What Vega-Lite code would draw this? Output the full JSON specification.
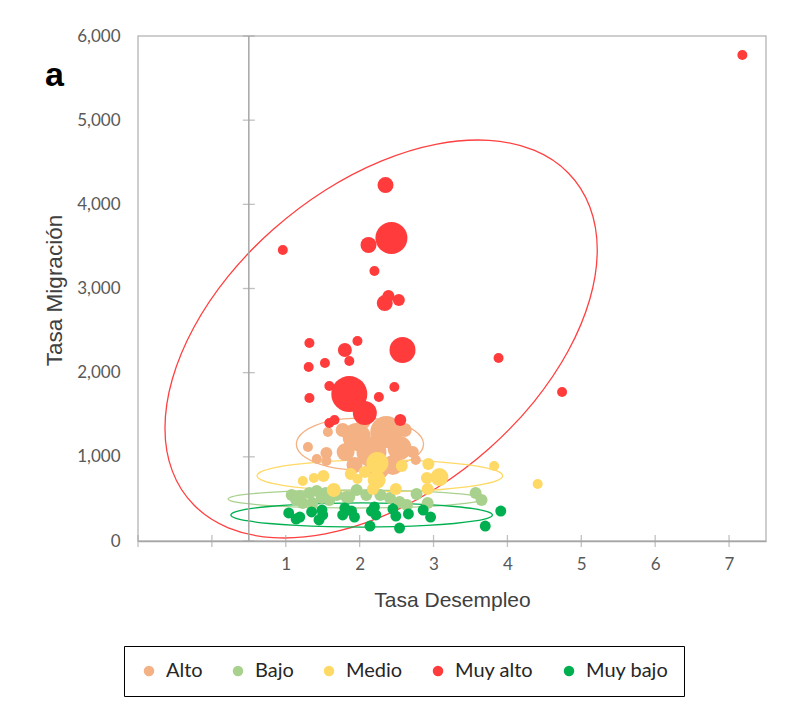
{
  "$schema": "https://vega.github.io/schema/vega-lite/v6.json",
  "width": 628,
  "height": 505,
  "autosize": {"type": "none"},
  "padding": {"left": 138, "top": 36, "right": 29, "bottom": 167},
  "background": "white",
  "config": {
    "view": {"stroke": "#BFBFBF", "strokeWidth": 1.5},
    "font": "Lato"
  },
  "title": {
    "text": "a", "anchor": "start", "frame": "group", "orient": "top",
    "fontSize": 34, "fontWeight": "bold", "font": "Liberation Sans", "color": "black",
    "baseline": "alphabetic", "offset": 0, "dx": -93, "dy": 93
  },
  "datasets": {
    "puntos": [
      {"nivel": "Alto", "desempleo": 1.30, "migracion": 1117, "pob": 25},
      {"nivel": "Alto", "desempleo": 1.57, "migracion": 1295, "pob": 25},
      {"nivel": "Alto", "desempleo": 1.55, "migracion": 1045, "pob": 36},
      {"nivel": "Alto", "desempleo": 1.42, "migracion": 974, "pob": 25},
      {"nivel": "Alto", "desempleo": 1.55, "migracion": 950, "pob": 25},
      {"nivel": "Alto", "desempleo": 1.77, "migracion": 1319, "pob": 49},
      {"nivel": "Alto", "desempleo": 1.96, "migracion": 1236, "pob": 196},
      {"nivel": "Alto", "desempleo": 2.36, "migracion": 1295, "pob": 256},
      {"nivel": "Alto", "desempleo": 2.16, "migracion": 1057, "pob": 225},
      {"nivel": "Alto", "desempleo": 2.54, "migracion": 1105, "pob": 144},
      {"nivel": "Alto", "desempleo": 2.45, "migracion": 903, "pob": 100},
      {"nivel": "Alto", "desempleo": 2.24, "migracion": 867, "pob": 144},
      {"nivel": "Alto", "desempleo": 2.72, "migracion": 1057, "pob": 36},
      {"nivel": "Alto", "desempleo": 1.81, "migracion": 1057, "pob": 81},
      {"nivel": "Alto", "desempleo": 2.05, "migracion": 1414, "pob": 49},
      {"nivel": "Alto", "desempleo": 2.61, "migracion": 1319, "pob": 49},
      {"nivel": "Alto", "desempleo": 2.76, "migracion": 962, "pob": 25},
      {"nivel": "Alto", "desempleo": 1.93, "migracion": 903, "pob": 64},
      {"nivel": "Bajo", "desempleo": 1.08, "migracion": 547, "pob": 36},
      {"nivel": "Bajo", "desempleo": 1.19, "migracion": 535, "pob": 36},
      {"nivel": "Bajo", "desempleo": 1.32, "migracion": 570, "pob": 36},
      {"nivel": "Bajo", "desempleo": 1.42, "migracion": 594, "pob": 36},
      {"nivel": "Bajo", "desempleo": 1.23, "migracion": 451, "pob": 36},
      {"nivel": "Bajo", "desempleo": 1.36, "migracion": 451, "pob": 36},
      {"nivel": "Bajo", "desempleo": 1.49, "migracion": 511, "pob": 36},
      {"nivel": "Bajo", "desempleo": 1.59, "migracion": 487, "pob": 36},
      {"nivel": "Bajo", "desempleo": 1.82, "migracion": 523, "pob": 36},
      {"nivel": "Bajo", "desempleo": 1.96, "migracion": 606, "pob": 36},
      {"nivel": "Bajo", "desempleo": 1.86, "migracion": 523, "pob": 36},
      {"nivel": "Bajo", "desempleo": 2.09, "migracion": 547, "pob": 36},
      {"nivel": "Bajo", "desempleo": 2.28, "migracion": 547, "pob": 36},
      {"nivel": "Bajo", "desempleo": 2.41, "migracion": 511, "pob": 36},
      {"nivel": "Bajo", "desempleo": 2.54, "migracion": 463, "pob": 36},
      {"nivel": "Bajo", "desempleo": 2.64, "migracion": 428, "pob": 36},
      {"nivel": "Bajo", "desempleo": 2.77, "migracion": 558, "pob": 36},
      {"nivel": "Bajo", "desempleo": 2.92, "migracion": 451, "pob": 36},
      {"nivel": "Bajo", "desempleo": 3.57, "migracion": 570, "pob": 36},
      {"nivel": "Bajo", "desempleo": 3.65, "migracion": 487, "pob": 36},
      {"nivel": "Bajo", "desempleo": 1.69, "migracion": 547, "pob": 36},
      {"nivel": "Bajo", "desempleo": 1.14, "migracion": 487, "pob": 36},
      {"nivel": "Bajo", "desempleo": 1.54, "migracion": 570, "pob": 36},
      {"nivel": "Medio", "desempleo": 1.23, "migracion": 713, "pob": 25},
      {"nivel": "Medio", "desempleo": 1.38, "migracion": 748, "pob": 25},
      {"nivel": "Medio", "desempleo": 1.51, "migracion": 772, "pob": 36},
      {"nivel": "Medio", "desempleo": 1.65, "migracion": 606, "pob": 49},
      {"nivel": "Medio", "desempleo": 1.88, "migracion": 796, "pob": 36},
      {"nivel": "Medio", "desempleo": 1.97, "migracion": 737, "pob": 25},
      {"nivel": "Medio", "desempleo": 2.24, "migracion": 927, "pob": 121},
      {"nivel": "Medio", "desempleo": 2.23, "migracion": 725, "pob": 81},
      {"nivel": "Medio", "desempleo": 2.18, "migracion": 618, "pob": 36},
      {"nivel": "Medio", "desempleo": 2.57, "migracion": 891, "pob": 36},
      {"nivel": "Medio", "desempleo": 2.49, "migracion": 618, "pob": 36},
      {"nivel": "Medio", "desempleo": 2.93, "migracion": 915, "pob": 36},
      {"nivel": "Medio", "desempleo": 3.08, "migracion": 760, "pob": 81},
      {"nivel": "Medio", "desempleo": 2.91, "migracion": 748, "pob": 36},
      {"nivel": "Medio", "desempleo": 2.92, "migracion": 618, "pob": 36},
      {"nivel": "Medio", "desempleo": 3.82, "migracion": 891, "pob": 25},
      {"nivel": "Medio", "desempleo": 4.41, "migracion": 677, "pob": 25},
      {"nivel": "Medio", "desempleo": 2.07, "migracion": 820, "pob": 36},
      {"nivel": "Muy alto", "desempleo": 7.18, "migracion": 5774, "pob": 25},
      {"nivel": "Muy alto", "desempleo": 2.35, "migracion": 4229, "pob": 64},
      {"nivel": "Muy alto", "desempleo": 2.43, "migracion": 3600, "pob": 256},
      {"nivel": "Muy alto", "desempleo": 2.12, "migracion": 3517, "pob": 64},
      {"nivel": "Muy alto", "desempleo": 0.96, "migracion": 3457, "pob": 25},
      {"nivel": "Muy alto", "desempleo": 2.20, "migracion": 3208, "pob": 25},
      {"nivel": "Muy alto", "desempleo": 2.39, "migracion": 2911, "pob": 36},
      {"nivel": "Muy alto", "desempleo": 2.34, "migracion": 2827, "pob": 64},
      {"nivel": "Muy alto", "desempleo": 2.53, "migracion": 2863, "pob": 36},
      {"nivel": "Muy alto", "desempleo": 1.32, "migracion": 2352, "pob": 25},
      {"nivel": "Muy alto", "desempleo": 1.97, "migracion": 2376, "pob": 25},
      {"nivel": "Muy alto", "desempleo": 1.80, "migracion": 2269, "pob": 49},
      {"nivel": "Muy alto", "desempleo": 2.58, "migracion": 2269, "pob": 169},
      {"nivel": "Muy alto", "desempleo": 1.53, "migracion": 2115, "pob": 25},
      {"nivel": "Muy alto", "desempleo": 1.86, "migracion": 2138, "pob": 25},
      {"nivel": "Muy alto", "desempleo": 1.31, "migracion": 2067, "pob": 25},
      {"nivel": "Muy alto", "desempleo": 3.88, "migracion": 2174, "pob": 25},
      {"nivel": "Muy alto", "desempleo": 1.86, "migracion": 1746, "pob": 324},
      {"nivel": "Muy alto", "desempleo": 1.59, "migracion": 1841, "pob": 25},
      {"nivel": "Muy alto", "desempleo": 2.47, "migracion": 1829, "pob": 25},
      {"nivel": "Muy alto", "desempleo": 1.32, "migracion": 1699, "pob": 25},
      {"nivel": "Muy alto", "desempleo": 2.26, "migracion": 1711, "pob": 25},
      {"nivel": "Muy alto", "desempleo": 2.07, "migracion": 1521, "pob": 144},
      {"nivel": "Muy alto", "desempleo": 2.55, "migracion": 1437, "pob": 36},
      {"nivel": "Muy alto", "desempleo": 1.59, "migracion": 1402, "pob": 25},
      {"nivel": "Muy alto", "desempleo": 1.66, "migracion": 1437, "pob": 25},
      {"nivel": "Muy alto", "desempleo": 4.74, "migracion": 1770, "pob": 25},
      {"nivel": "Muy bajo", "desempleo": 1.04, "migracion": 333, "pob": 30},
      {"nivel": "Muy bajo", "desempleo": 1.14, "migracion": 261, "pob": 30},
      {"nivel": "Muy bajo", "desempleo": 1.35, "migracion": 345, "pob": 30},
      {"nivel": "Muy bajo", "desempleo": 1.49, "migracion": 368, "pob": 30},
      {"nivel": "Muy bajo", "desempleo": 1.45, "migracion": 250, "pob": 30},
      {"nivel": "Muy bajo", "desempleo": 1.50, "migracion": 309, "pob": 30},
      {"nivel": "Muy bajo", "desempleo": 1.80, "migracion": 392, "pob": 30},
      {"nivel": "Muy bajo", "desempleo": 1.89, "migracion": 356, "pob": 30},
      {"nivel": "Muy bajo", "desempleo": 1.93, "migracion": 285, "pob": 30},
      {"nivel": "Muy bajo", "desempleo": 2.16, "migracion": 356, "pob": 30},
      {"nivel": "Muy bajo", "desempleo": 2.20, "migracion": 404, "pob": 30},
      {"nivel": "Muy bajo", "desempleo": 2.22, "migracion": 309, "pob": 30},
      {"nivel": "Muy bajo", "desempleo": 2.45, "migracion": 380, "pob": 30},
      {"nivel": "Muy bajo", "desempleo": 2.49, "migracion": 297, "pob": 30},
      {"nivel": "Muy bajo", "desempleo": 2.66, "migracion": 321, "pob": 30},
      {"nivel": "Muy bajo", "desempleo": 2.86, "migracion": 368, "pob": 30},
      {"nivel": "Muy bajo", "desempleo": 2.96, "migracion": 285, "pob": 30},
      {"nivel": "Muy bajo", "desempleo": 2.14, "migracion": 178, "pob": 30},
      {"nivel": "Muy bajo", "desempleo": 2.54, "migracion": 154, "pob": 30},
      {"nivel": "Muy bajo", "desempleo": 3.70, "migracion": 178, "pob": 30},
      {"nivel": "Muy bajo", "desempleo": 3.91, "migracion": 356, "pob": 30},
      {"nivel": "Muy bajo", "desempleo": 1.19, "migracion": 285, "pob": 30},
      {"nivel": "Muy bajo", "desempleo": 1.77, "migracion": 309, "pob": 30}
    ],
    "elipses": [
      {"nivel": "Muy alto", "i": 0, "desempleo": 5.216, "migracion": 3459},
      {"nivel": "Muy alto", "i": 1, "desempleo": 5.116, "migracion": 3969},
      {"nivel": "Muy alto", "i": 2, "desempleo": 4.824, "migracion": 4373},
      {"nivel": "Muy alto", "i": 3, "desempleo": 4.359, "migracion": 4643},
      {"nivel": "Muy alto", "i": 4, "desempleo": 3.753, "migracion": 4760},
      {"nivel": "Muy alto", "i": 5, "desempleo": 3.047, "migracion": 4716},
      {"nivel": "Muy alto", "i": 6, "desempleo": 2.291, "migracion": 4514},
      {"nivel": "Muy alto", "i": 7, "desempleo": 1.534, "migracion": 4168},
      {"nivel": "Muy alto", "i": 8, "desempleo": 0.828, "migracion": 3701},
      {"nivel": "Muy alto", "i": 9, "desempleo": 0.222, "migracion": 3146},
      {"nivel": "Muy alto", "i": 10, "desempleo": -0.243, "migracion": 2540},
      {"nivel": "Muy alto", "i": 11, "desempleo": -0.535, "migracion": 1925},
      {"nivel": "Muy alto", "i": 12, "desempleo": -0.635, "migracion": 1341},
      {"nivel": "Muy alto", "i": 13, "desempleo": -0.535, "migracion": 830},
      {"nivel": "Muy alto", "i": 14, "desempleo": -0.243, "migracion": 427},
      {"nivel": "Muy alto", "i": 15, "desempleo": 0.222, "migracion": 157},
      {"nivel": "Muy alto", "i": 16, "desempleo": 0.828, "migracion": 40},
      {"nivel": "Muy alto", "i": 17, "desempleo": 1.534, "migracion": 84},
      {"nivel": "Muy alto", "i": 18, "desempleo": 2.291, "migracion": 286},
      {"nivel": "Muy alto", "i": 19, "desempleo": 3.047, "migracion": 632},
      {"nivel": "Muy alto", "i": 20, "desempleo": 3.753, "migracion": 1099},
      {"nivel": "Muy alto", "i": 21, "desempleo": 4.359, "migracion": 1654},
      {"nivel": "Muy alto", "i": 22, "desempleo": 4.824, "migracion": 2260},
      {"nivel": "Muy alto", "i": 23, "desempleo": 5.116, "migracion": 2875},
      {"nivel": "Alto", "i": 0, "desempleo": 2.865, "migracion": 1152},
      {"nivel": "Alto", "i": 1, "desempleo": 2.836, "migracion": 1232},
      {"nivel": "Alto", "i": 2, "desempleo": 2.750, "migracion": 1307},
      {"nivel": "Alto", "i": 3, "desempleo": 2.613, "migracion": 1371},
      {"nivel": "Alto", "i": 4, "desempleo": 2.435, "migracion": 1420},
      {"nivel": "Alto", "i": 5, "desempleo": 2.227, "migracion": 1450},
      {"nivel": "Alto", "i": 6, "desempleo": 2.004, "migracion": 1461},
      {"nivel": "Alto", "i": 7, "desempleo": 1.781, "migracion": 1450},
      {"nivel": "Alto", "i": 8, "desempleo": 1.574, "migracion": 1420},
      {"nivel": "Alto", "i": 9, "desempleo": 1.395, "migracion": 1371},
      {"nivel": "Alto", "i": 10, "desempleo": 1.258, "migracion": 1307},
      {"nivel": "Alto", "i": 11, "desempleo": 1.172, "migracion": 1232},
      {"nivel": "Alto", "i": 12, "desempleo": 1.143, "migracion": 1152},
      {"nivel": "Alto", "i": 13, "desempleo": 1.172, "migracion": 1072},
      {"nivel": "Alto", "i": 14, "desempleo": 1.258, "migracion": 998},
      {"nivel": "Alto", "i": 15, "desempleo": 1.395, "migracion": 934},
      {"nivel": "Alto", "i": 16, "desempleo": 1.574, "migracion": 884},
      {"nivel": "Alto", "i": 17, "desempleo": 1.781, "migracion": 854},
      {"nivel": "Alto", "i": 18, "desempleo": 2.004, "migracion": 843},
      {"nivel": "Alto", "i": 19, "desempleo": 2.227, "migracion": 854},
      {"nivel": "Alto", "i": 20, "desempleo": 2.435, "migracion": 884},
      {"nivel": "Alto", "i": 21, "desempleo": 2.613, "migracion": 934},
      {"nivel": "Alto", "i": 22, "desempleo": 2.750, "migracion": 998},
      {"nivel": "Alto", "i": 23, "desempleo": 2.836, "migracion": 1072},
      {"nivel": "Medio", "i": 0, "desempleo": 3.936, "migracion": 775},
      {"nivel": "Medio", "i": 1, "desempleo": 3.879, "migracion": 824},
      {"nivel": "Medio", "i": 2, "desempleo": 3.713, "migracion": 869},
      {"nivel": "Medio", "i": 3, "desempleo": 3.449, "migracion": 908},
      {"nivel": "Medio", "i": 4, "desempleo": 3.105, "migracion": 938},
      {"nivel": "Medio", "i": 5, "desempleo": 2.704, "migracion": 957},
      {"nivel": "Medio", "i": 6, "desempleo": 2.274, "migracion": 963},
      {"nivel": "Medio", "i": 7, "desempleo": 1.844, "migracion": 957},
      {"nivel": "Medio", "i": 8, "desempleo": 1.443, "migracion": 938},
      {"nivel": "Medio", "i": 9, "desempleo": 1.099, "migracion": 908},
      {"nivel": "Medio", "i": 10, "desempleo": 0.835, "migracion": 869},
      {"nivel": "Medio", "i": 11, "desempleo": 0.669, "migracion": 824},
      {"nivel": "Medio", "i": 12, "desempleo": 0.612, "migracion": 775},
      {"nivel": "Medio", "i": 13, "desempleo": 0.669, "migracion": 726},
      {"nivel": "Medio", "i": 14, "desempleo": 0.835, "migracion": 681},
      {"nivel": "Medio", "i": 15, "desempleo": 1.099, "migracion": 642},
      {"nivel": "Medio", "i": 16, "desempleo": 1.443, "migracion": 612},
      {"nivel": "Medio", "i": 17, "desempleo": 1.844, "migracion": 593},
      {"nivel": "Medio", "i": 18, "desempleo": 2.274, "migracion": 587},
      {"nivel": "Medio", "i": 19, "desempleo": 2.704, "migracion": 593},
      {"nivel": "Medio", "i": 20, "desempleo": 3.105, "migracion": 612},
      {"nivel": "Medio", "i": 21, "desempleo": 3.449, "migracion": 642},
      {"nivel": "Medio", "i": 22, "desempleo": 3.713, "migracion": 681},
      {"nivel": "Medio", "i": 23, "desempleo": 3.879, "migracion": 726},
      {"nivel": "Bajo", "i": 0, "desempleo": 3.659, "migracion": 499},
      {"nivel": "Bajo", "i": 1, "desempleo": 3.600, "migracion": 527},
      {"nivel": "Bajo", "i": 2, "desempleo": 3.429, "migracion": 553},
      {"nivel": "Bajo", "i": 3, "desempleo": 3.155, "migracion": 575},
      {"nivel": "Bajo", "i": 4, "desempleo": 2.799, "migracion": 592},
      {"nivel": "Bajo", "i": 5, "desempleo": 2.384, "migracion": 602},
      {"nivel": "Bajo", "i": 6, "desempleo": 1.939, "migracion": 606},
      {"nivel": "Bajo", "i": 7, "desempleo": 1.494, "migracion": 602},
      {"nivel": "Bajo", "i": 8, "desempleo": 1.079, "migracion": 592},
      {"nivel": "Bajo", "i": 9, "desempleo": 0.723, "migracion": 575},
      {"nivel": "Bajo", "i": 10, "desempleo": 0.450, "migracion": 553},
      {"nivel": "Bajo", "i": 11, "desempleo": 0.278, "migracion": 527},
      {"nivel": "Bajo", "i": 12, "desempleo": 0.219, "migracion": 499},
      {"nivel": "Bajo", "i": 13, "desempleo": 0.278, "migracion": 471},
      {"nivel": "Bajo", "i": 14, "desempleo": 0.450, "migracion": 446},
      {"nivel": "Bajo", "i": 15, "desempleo": 0.723, "migracion": 423},
      {"nivel": "Bajo", "i": 16, "desempleo": 1.079, "migracion": 406},
      {"nivel": "Bajo", "i": 17, "desempleo": 1.494, "migracion": 396},
      {"nivel": "Bajo", "i": 18, "desempleo": 1.939, "migracion": 392},
      {"nivel": "Bajo", "i": 19, "desempleo": 2.384, "migracion": 396},
      {"nivel": "Bajo", "i": 20, "desempleo": 2.799, "migracion": 406},
      {"nivel": "Bajo", "i": 21, "desempleo": 3.155, "migracion": 423},
      {"nivel": "Bajo", "i": 22, "desempleo": 3.429, "migracion": 446},
      {"nivel": "Bajo", "i": 23, "desempleo": 3.600, "migracion": 471},
      {"nivel": "Muy bajo", "i": 0, "desempleo": 3.797, "migracion": 309},
      {"nivel": "Muy bajo", "i": 1, "desempleo": 3.737, "migracion": 346},
      {"nivel": "Muy bajo", "i": 2, "desempleo": 3.560, "migracion": 381},
      {"nivel": "Muy bajo", "i": 3, "desempleo": 3.279, "migracion": 410},
      {"nivel": "Muy bajo", "i": 4, "desempleo": 2.912, "migracion": 433},
      {"nivel": "Muy bajo", "i": 5, "desempleo": 2.485, "migracion": 447},
      {"nivel": "Muy bajo", "i": 6, "desempleo": 2.027, "migracion": 452},
      {"nivel": "Muy bajo", "i": 7, "desempleo": 1.569, "migracion": 447},
      {"nivel": "Muy bajo", "i": 8, "desempleo": 1.142, "migracion": 433},
      {"nivel": "Muy bajo", "i": 9, "desempleo": 0.775, "migracion": 410},
      {"nivel": "Muy bajo", "i": 10, "desempleo": 0.495, "migracion": 381},
      {"nivel": "Muy bajo", "i": 11, "desempleo": 0.317, "migracion": 346},
      {"nivel": "Muy bajo", "i": 12, "desempleo": 0.257, "migracion": 309},
      {"nivel": "Muy bajo", "i": 13, "desempleo": 0.317, "migracion": 272},
      {"nivel": "Muy bajo", "i": 14, "desempleo": 0.495, "migracion": 238},
      {"nivel": "Muy bajo", "i": 15, "desempleo": 0.775, "migracion": 208},
      {"nivel": "Muy bajo", "i": 16, "desempleo": 1.142, "migracion": 185},
      {"nivel": "Muy bajo", "i": 17, "desempleo": 1.569, "migracion": 171},
      {"nivel": "Muy bajo", "i": 18, "desempleo": 2.027, "migracion": 166},
      {"nivel": "Muy bajo", "i": 19, "desempleo": 2.485, "migracion": 171},
      {"nivel": "Muy bajo", "i": 20, "desempleo": 2.912, "migracion": 185},
      {"nivel": "Muy bajo", "i": 21, "desempleo": 3.279, "migracion": 208},
      {"nivel": "Muy bajo", "i": 22, "desempleo": 3.560, "migracion": 238},
      {"nivel": "Muy bajo", "i": 23, "desempleo": 3.737, "migracion": 272}
    ],
    "marcasY": [
      {"migracion": 0}, {"migracion": 1000}, {"migracion": 2000}, {"migracion": 3000},
      {"migracion": 4000}, {"migracion": 5000}, {"migracion": 6000}
    ],
    "marcasX": [
      {"desempleo": -1}, {"desempleo": 0}, {"desempleo": 1}, {"desempleo": 2}, {"desempleo": 3},
      {"desempleo": 4}, {"desempleo": 5}, {"desempleo": 6}, {"desempleo": 7}
    ]
  },
  "layer": [
    {
      "data": {"name": "elipses"},
      "mark": {"type": "line", "interpolate": "cardinal-closed", "strokeWidth": 1.3},
      "encoding": {
        "x": {"field": "desempleo", "type": "quantitative"},
        "y": {"field": "migracion", "type": "quantitative"},
        "stroke": {
          "field": "nivel", "type": "nominal", "legend": null,
          "scale": {"range": ["#F4B183", "#A9D18E", "#FFD966", "#FF4040", "#00B050"]}
        },
        "order": {"field": "i", "type": "quantitative"}
      }
    },
    {
      "data": {"name": "marcasY"},
      "mark": {"type": "rule", "color": "#A6A6A6", "strokeWidth": 1.5},
      "encoding": {
        "x": {"datum": 0.5, "type": "quantitative"},
        "y": {"aggregate": "min", "field": "migracion", "type": "quantitative"},
        "y2": {"aggregate": "max", "field": "migracion"}
      }
    },
    {
      "data": {"name": "marcasY"},
      "mark": {"type": "tick", "orient": "horizontal", "size": 12, "thickness": 1.3, "color": "#A6A6A6"},
      "encoding": {
        "x": {"datum": 0.5, "type": "quantitative"},
        "y": {"field": "migracion", "type": "quantitative"}
      }
    },
    {
      "data": {"name": "marcasX"},
      "mark": {"type": "tick", "orient": "vertical", "size": 12, "thickness": 1.3, "color": "#A6A6A6"},
      "encoding": {
        "x": {"field": "desempleo", "type": "quantitative"},
        "y": {"datum": 0, "type": "quantitative"}
      }
    },
    {
      "data": {"name": "puntos"},
      "mark": {"type": "circle", "opacity": 1, "strokeWidth": 0},
      "encoding": {
        "x": {
          "field": "desempleo", "type": "quantitative",
          "scale": {"domain": [-1, 7.5], "nice": false, "zero": false},
          "axis": {
            "values": [1, 2, 3, 4, 5, 6, 7], "format": "d", "grid": false, "ticks": false, "tickSize": 0,
            "domain": true, "domainColor": "#A6A6A6", "domainWidth": 1.5,
            "labelFontSize": 17, "labelColor": "#595959", "labelPadding": 15, "labelFont": "Lato",
            "title": "Tasa Desempleo", "titleFont": "Liberation Sans", "titleFontSize": 21,
            "titleFontWeight": "normal", "titleColor": "#404040", "titleY": 48, "titleBaseline": "top"
          }
        },
        "y": {
          "field": "migracion", "type": "quantitative",
          "scale": {"domain": [0, 6000], "nice": false},
          "axis": {
            "values": [0, 1000, 2000, 3000, 4000, 5000, 6000], "format": ",d", "grid": false,
            "ticks": false, "tickSize": 0, "domain": false,
            "labelFontSize": 17, "labelColor": "#595959", "labelPadding": 18, "labelFont": "Lato",
            "title": "Tasa Migración", "titleFont": "Liberation Sans", "titleFontSize": 22.5,
            "titleFontWeight": "normal", "titleColor": "#404040",
            "titleX": -72, "titleY": 254, "titleAlign": "center", "titleBaseline": "bottom", "titleAngle": 270
          }
        },
        "color": {
          "field": "nivel", "type": "nominal",
          "scale": {"domain": ["Alto", "Bajo", "Medio", "Muy alto", "Muy bajo"],
                    "range": ["#F4B183", "#A9D18E", "#FFD966", "#FF3B3B", "#00B050"]},
          "legend": {
            "title": null, "orient": "none", "legendX": -14, "legendY": 610, "direction": "horizontal",
            "strokeColor": "black", "padding": 15, "fillColor": "white",
            "symbolType": "circle", "symbolSize": 110, "symbolStrokeWidth": 0, "symbolOpacity": 1,
            "labelFontSize": 20, "labelFont": "Lato", "labelColor": "#262626",
            "columnPadding": 25, "labelOffset": 7
          }
        },
        "size": {
          "field": "pob", "type": "quantitative", "legend": null,
          "scale": {"domain": [0, 324], "range": [0, 1296], "zero": true}
        }
      }
    }
  ]
}
